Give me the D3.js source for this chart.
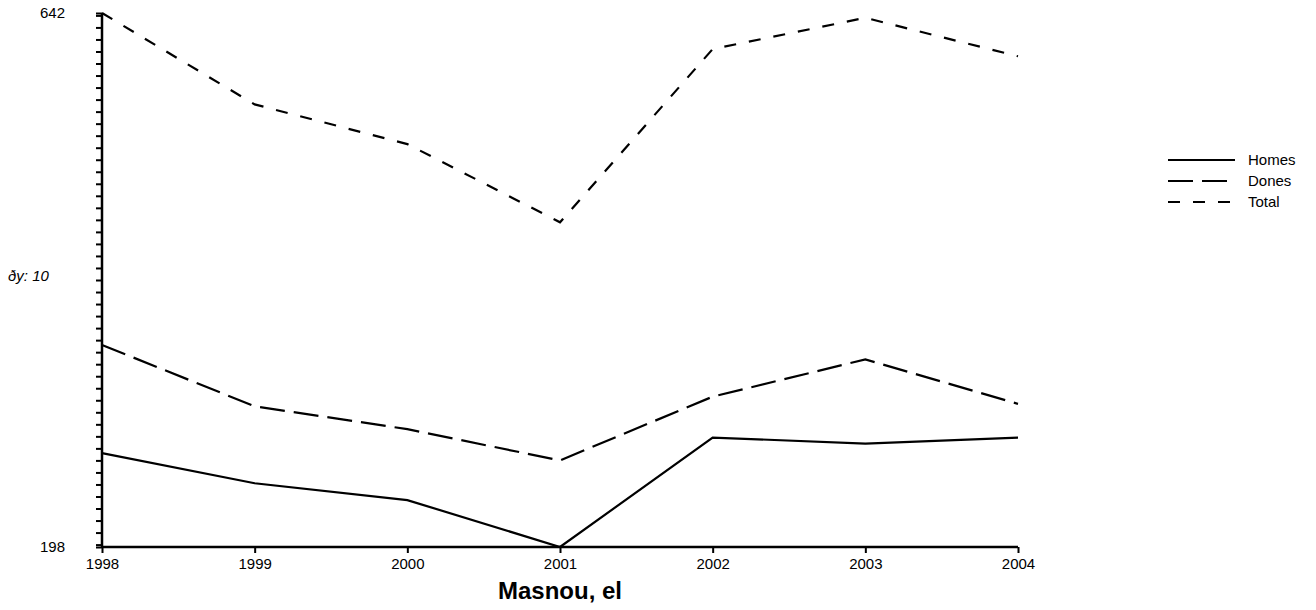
<!DOCTYPE html>
<html>
<head>
<meta charset="utf-8">
<script src="https://cdn.jsdelivr.net/npm/d3@7"></script>
<style>
  body { margin: 0; background: #fff; }
  text { font-family: "Liberation Sans", Arial, sans-serif; }
</style>
</head>
<body>
<svg id="chart"></svg>
<script>
const years = [1998, 1999, 2000, 2001, 2002, 2003, 2004];
const homes = [276, 251, 237, 198, 289, 284, 289];
const dones = [366, 315, 296, 270, 323, 354, 317];
const total = [642, 566, 533, 468, 612, 638, 606];
const yLabels = [198, 642];
const seriesNames = ["Homes", "Dones", "Total"];

const width = 1316, height = 610;
const svg = d3.select("#chart").attr("width", width).attr("height", height);

const x = d3.scaleLinear().domain([1998, 2004]).range([102, 1018]);
const y = d3.scaleLinear().domain([198, 642]).range([547, 13]);

// minor ticks every 10 plus the two ends
const minorTicks = [198].concat(d3.range(200, 641, 10), [642]);

svg.append("g")
    .attr("transform", "translate(102,0)")
    .call(d3.axisLeft(y).tickValues(minorTicks).tickSize(6).tickFormat(""))
    .call(g => g.select(".domain").attr("stroke-width", 2.5).attr("d", `M0,${y(198)}V${y(642)}`))
    .call(g => g.selectAll(".tick line").attr("stroke-width", 2));

svg.append("g")
    .attr("transform", "translate(0,547)")
    .call(d3.axisBottom(x).tickValues(years).tickSize(6).tickFormat(d3.format("d")))
    .call(g => g.select(".domain").attr("stroke-width", 2.5).attr("d", `M${x(1998)},0H${x(2004)}`))
    .call(g => g.selectAll(".tick line").attr("stroke-width", 2))
    .call(g => g.selectAll(".tick text").attr("font-size", 15).attr("fill", "#000")
        .attr("font-family", "'Liberation Sans', Arial, sans-serif").attr("y", 8).attr("dy", "0.9em"));

svg.selectAll(".ylab")
    .data(yLabels)
    .enter()
    .append("text")
    .attr("x", 65)
    .attr("y", d => y(d))
    .attr("dy", "0.35em")
    .attr("text-anchor", "end")
    .attr("font-size", 15)
    .text(d => d);

svg.append("text")
    .attr("x", 8)
    .attr("y", 276)
    .attr("dy", "0.35em")
    .attr("font-size", 15)
    .attr("font-style", "italic")
    .text("ðy: 10");

const dashes = ["none", "25,9", "12,13"];
const data = [homes, dones, total];

const line = d3.line()
    .x((d, i) => x(years[i]))
    .y(d => y(d));

data.forEach((s, k) => {
    svg.append("path")
        .datum(s)
        .attr("fill", "none")
        .attr("stroke", "#000")
        .attr("stroke-width", 2.2)
        .attr("stroke-dasharray", dashes[k])
        .attr("d", line);
});

const legend = svg.append("g").attr("transform", "translate(1168,160)");
seriesNames.forEach((name, i) => {
    legend.append("line")
        .attr("x1", 0).attr("x2", 67)
        .attr("y1", i * 21).attr("y2", i * 21)
        .attr("stroke", "#000")
        .attr("stroke-width", 2.2)
        .attr("stroke-dasharray", dashes[i]);
    legend.append("text")
        .attr("x", 80)
        .attr("y", i * 21)
        .attr("dy", "0.35em")
        .attr("font-size", 15)
        .text(name);
});

svg.append("text")
    .attr("x", 560)
    .attr("y", 599)
    .attr("text-anchor", "middle")
    .attr("font-size", 24)
    .attr("font-weight", "bold")
    .text("Masnou, el");
</script>
</body>
</html>
